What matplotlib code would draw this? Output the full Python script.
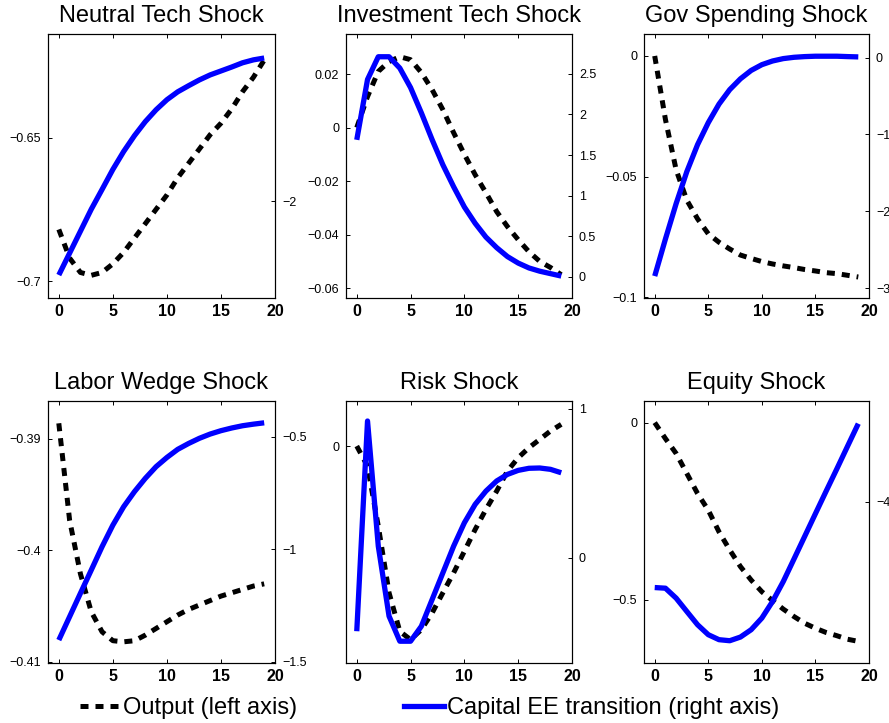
import numpy as np
import matplotlib
matplotlib.use('Agg')
import matplotlib.pyplot as plt
from matplotlib.lines import Line2D
from matplotlib.ticker import FuncFormatter

plt.rcParams['font.family'] = ['Liberation Sans', 'DejaVu Sans']

# ── data ─────────────────────────────────────────────
horizon = np.arange(20)

titles = ['Neutral Tech Shock', 'Investment Tech Shock', 'Gov Spending Shock',
          'Labor Wedge Shock', 'Risk Shock', 'Equity Shock']

# output response (left axis)
output_neutral = [-0.682, -0.692, -0.697, -0.698, -0.697, -0.694, -0.690, -0.685, -0.680, -0.675,
                  -0.670, -0.664, -0.659, -0.654, -0.649, -0.645, -0.640, -0.634, -0.629, -0.623]
output_invest = [0.000, 0.0116, 0.021, 0.0247, 0.0265, 0.0254, 0.0206, 0.0142, 0.0067, -0.0019,
                 -0.010, -0.0176, -0.0243, -0.0314, -0.037, -0.0419, -0.0464, -0.050, -0.0523, -0.055]
output_gov = [0.000, -0.0263, -0.0472, -0.0598, -0.0675, -0.0737, -0.0772, -0.080, -0.0825, -0.0839,
              -0.0852, -0.0862, -0.0870, -0.0877, -0.0885, -0.0891, -0.0898, -0.0902, -0.0909, -0.0916]
output_labor = [-0.3886, -0.3973, -0.4021, -0.4055, -0.4073, -0.4081, -0.4082, -0.4081, -0.4076, -0.4070,
                -0.4064, -0.4058, -0.4053, -0.4049, -0.4045, -0.4041, -0.4038, -0.4035, -0.4032, -0.4030]
output_risk = [0.000, -0.0268, -0.107, -0.196, -0.2475, -0.2586, -0.2452, -0.223, -0.196, -0.1694,
               -0.1405, -0.1115, -0.0847, -0.0602, -0.0334, -0.0156, -0.0022, 0.0089, 0.0201, 0.029]
output_equity = [0.000, -0.045, -0.087, -0.1435, -0.200, -0.247, -0.308, -0.359, -0.406, -0.444,
                 -0.477, -0.502, -0.526, -0.547, -0.566, -0.580, -0.592, -0.601, -0.611, -0.617]

# capital EE transition (right axis)
capital_neutral = [-2.279, -2.196, -2.113, -2.030, -1.955, -1.879, -1.811, -1.751, -1.698, -1.653,
                   -1.615, -1.585, -1.562, -1.540, -1.521, -1.506, -1.491, -1.475, -1.464, -1.457]
capital_invest = [1.687, 2.43, 2.71, 2.71, 2.57, 2.33, 2.02, 1.69, 1.38, 1.11,
                  0.86, 0.66, 0.49, 0.36, 0.25, 0.17, 0.11, 0.07, 0.04, 0.01]
capital_gov = [-2.842, -2.360, -1.899, -1.482, -1.132, -0.846, -0.605, -0.417, -0.276, -0.167,
               -0.092, -0.044, -0.013, 0.004, 0.013, 0.018, 0.018, 0.018, 0.013, 0.009]
capital_labor = [-1.404, -1.300, -1.196, -1.093, -0.989, -0.893, -0.811, -0.744, -0.685, -0.633,
                 -0.592, -0.556, -0.530, -0.507, -0.488, -0.473, -0.461, -0.451, -0.444, -0.438]
capital_risk = [-0.492, 0.917, 0.078, -0.391, -0.559, -0.559, -0.459, -0.280, -0.101, 0.078,
                0.235, 0.358, 0.447, 0.515, 0.559, 0.586, 0.600, 0.602, 0.593, 0.570]
capital_equity = [-4.655, -4.660, -4.736, -4.838, -4.939, -5.015, -5.053, -5.061, -5.033, -4.977,
                  -4.888, -4.761, -4.609, -4.437, -4.264, -4.091, -3.919, -3.749, -3.576, -3.404]

outputs = [output_neutral, output_invest, output_gov, output_labor, output_risk, output_equity]
capitals = [capital_neutral, capital_invest, capital_gov, capital_labor, capital_risk, capital_equity]

left_ticks = [[-0.7, -0.65], [-0.06, -0.04, -0.02, 0, 0.02], [-0.1, -0.05, 0],
              [-0.41, -0.4, -0.39], [0], [-0.5, 0]]
right_ticks = [[-2], [0, 0.5, 1, 1.5, 2, 2.5], [-3, -2, -1, 0],
               [-1.5, -1, -0.5], [0, 1], [-4]]
left_lims = [(-0.7059, -0.6139), (-0.0637, 0.035), (-0.1003, 0.0091),
             (-0.4101, -0.3866), (-0.2898, 0.0602), (-0.678, 0.061)]
right_lims = [(-2.366, -1.366), (-0.26, 2.99), (-3.127, 0.307),
              (-1.506, -0.341), (-0.705, 1.051), (-5.231, -3.231)]

# ── layout (pixel boxes) ─────────────────────────────
W, H = 889, 723
cols = [(48, 275), (346, 572), (644, 869)]
rows = [(34, 298), (401, 663)]

def fmt(v, p):
    v = round(v, 6) + 0.0
    return ('%g' % v).replace('-', '\u2212')

dash = (0, (1.6, 1.4))

fig = plt.figure(figsize=(W / 100, H / 100), dpi=100)
fig.patch.set_facecolor('white')

for i in range(6):
    x0, x1 = cols[i % 3]
    y0, y1 = rows[i // 3]
    ax = fig.add_axes([x0 / W, (H - y1) / H, (x1 - x0) / W, (y1 - y0) / H])
    ax2 = ax.twinx()

    ax.plot(horizon, outputs[i], color='black', lw=3.6, linestyle=dash)
    ax2.plot(horizon, capitals[i], color='#0000ff', lw=3.8, solid_capstyle='butt')

    ax.set_xlim(-1, 20)
    ax.set_xticks([0, 5, 10, 15, 20])
    ax.set_ylim(*left_lims[i])
    ax.set_yticks(left_ticks[i])
    ax2.set_ylim(*right_lims[i])
    ax2.set_yticks(right_ticks[i])
    ax.yaxis.set_major_formatter(FuncFormatter(fmt))
    ax2.yaxis.set_major_formatter(FuncFormatter(fmt))

    ax.tick_params(axis='x', direction='in', top=True, length=3, width=0.7,
                   labelsize=11.5, pad=4)
    for lab in ax.get_xticklabels():
        lab.set_fontweight('bold')
    ax.tick_params(axis='y', direction='in', length=3, width=0.7, labelsize=9, pad=5)
    ax2.tick_params(axis='y', direction='in', length=3, width=0.7, labelsize=9, pad=5)
    for sp in list(ax.spines.values()) + list(ax2.spines.values()):
        sp.set_linewidth(0.8)

    ax.set_title(titles[i], fontsize=17, pad=8.5)

handles = [Line2D([], [], color='black', lw=3.6, linestyle=dash),
           Line2D([], [], color='#0000ff', lw=3.8)]
fig.legend(handles, ['Output (left axis)', 'Capital EE transition (right axis)'],
           loc='center left', bbox_to_anchor=(80 / W, (H - 708) / H), ncol=2, frameon=False,
           fontsize=17, handlelength=1.7, handletextpad=0.13, columnspacing=4.5,
           borderpad=0, borderaxespad=0)

fig.savefig('out.png', dpi=100, facecolor='white')
